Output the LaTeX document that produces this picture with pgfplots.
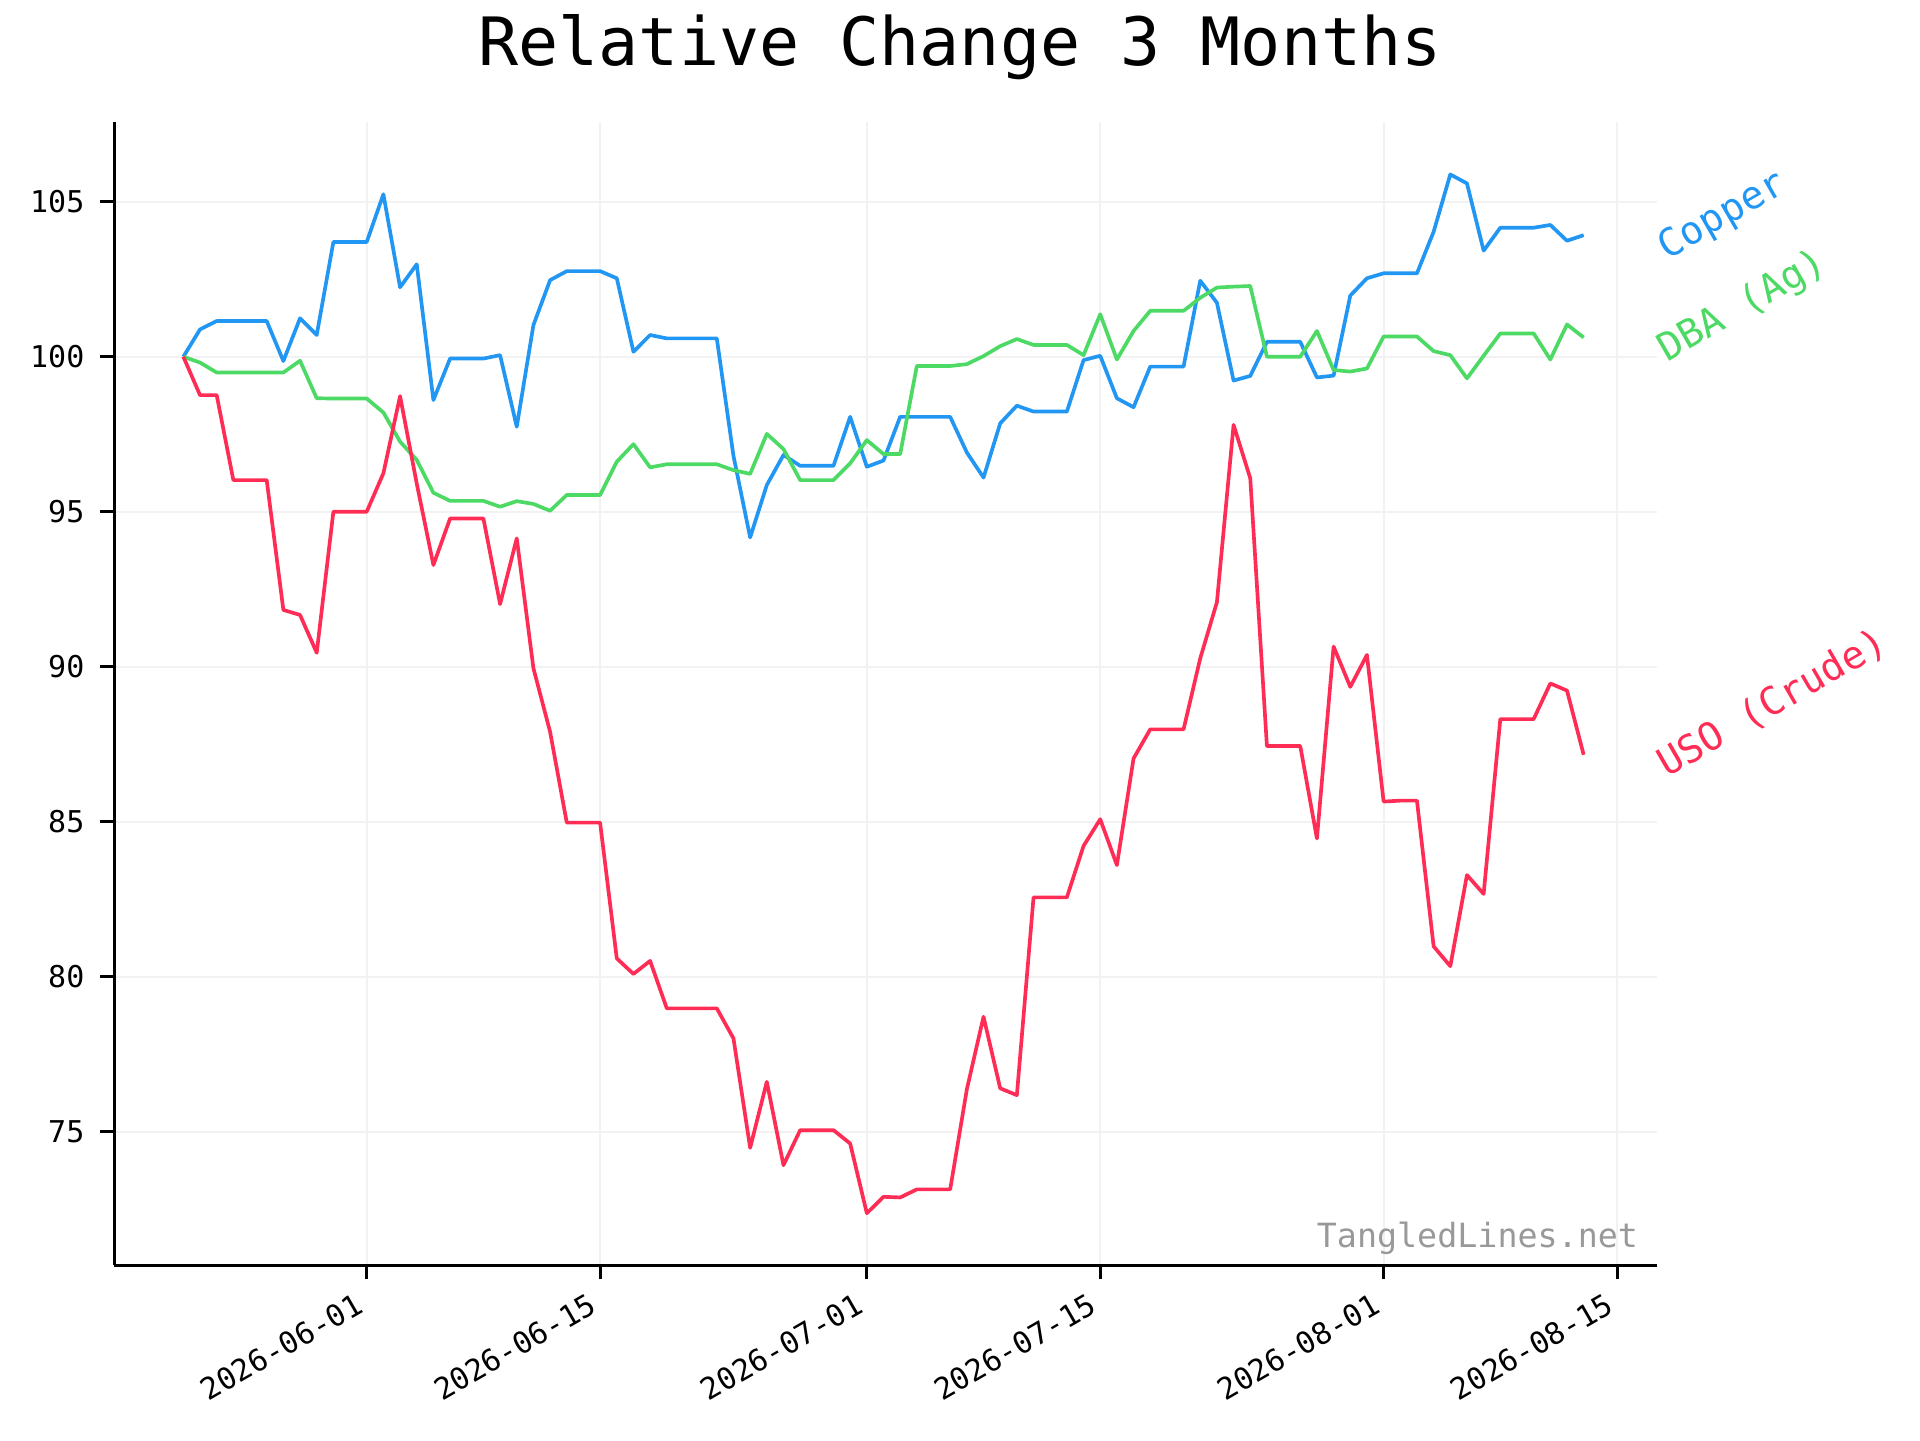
\documentclass[border=0pt]{standalone}
\usepackage{fontspec}
\setmainfont{DejaVu Sans Mono}
\usepackage{pgfplots}
\usepackage{pgfplotstable}
\pgfplotsset{compat=1.18}
\definecolor{cblue}{RGB}{33,150,243}
\definecolor{cgreen}{RGB}{76,217,100}
\definecolor{cred}{RGB}{255,45,85}
\definecolor{gridc}{RGB}{242,242,242}
\definecolor{wm}{RGB}{153,153,153}

\pgfplotstableread{
i copper dba uso
0 100.00 100.00 100.00
1 100.88 99.81 98.76
2 101.15 99.49 98.76
3 101.15 99.49 96.02
4 101.15 99.49 96.02
5 101.15 99.49 96.02
6 99.86 99.49 91.83
7 101.24 99.87 91.67
8 100.70 98.66 90.45
9 103.70 98.65 95.00
10 103.70 98.65 95.00
11 103.70 98.65 95.00
12 105.24 98.20 96.24
13 102.24 97.26 98.73
14 102.98 96.67 95.91
15 98.60 95.61 93.28
16 99.94 95.35 94.78
17 99.94 95.35 94.78
18 99.94 95.35 94.78
19 100.05 95.16 92.02
20 97.74 95.34 94.14
21 101.02 95.25 89.95
22 102.47 95.03 87.90
23 102.76 95.54 84.97
24 102.76 95.54 84.97
25 102.76 95.54 84.97
26 102.53 96.61 80.59
27 100.16 97.18 80.09
28 100.70 96.43 80.51
29 100.59 96.53 78.98
30 100.59 96.53 78.98
31 100.59 96.53 78.98
32 100.59 96.53 78.98
33 96.80 96.34 78.01
34 94.17 96.22 74.48
35 95.86 97.51 76.61
36 96.83 97.02 73.92
37 96.48 96.02 75.05
38 96.48 96.02 75.05
39 96.48 96.02 75.05
40 98.06 96.56 74.62
41 96.45 97.31 72.37
42 96.65 96.86 72.90
43 98.06 96.86 72.88
44 98.06 99.70 73.14
45 98.06 99.70 73.14
46 98.06 99.70 73.14
47 96.91 99.76 76.37
48 96.10 100.02 78.71
49 97.85 100.34 76.40
50 98.42 100.57 76.18
51 98.23 100.38 82.56
52 98.23 100.38 82.56
53 98.23 100.38 82.56
54 99.89 100.05 84.22
55 100.03 101.37 85.08
56 98.66 99.91 83.60
57 98.37 100.83 87.04
58 99.68 101.48 87.98
59 99.68 101.48 87.98
60 99.68 101.48 87.98
61 102.45 101.90 90.27
62 101.74 102.23 92.08
63 99.23 102.26 97.80
64 99.38 102.28 96.08
65 100.48 100.00 87.44
66 100.48 100.00 87.44
67 100.48 100.00 87.44
68 99.33 100.83 84.46
69 99.39 99.57 90.65
70 101.97 99.52 89.35
71 102.53 99.62 90.38
72 102.69 100.65 85.65
73 102.69 100.65 85.68
74 102.69 100.65 85.68
75 104.03 100.18 80.98
76 105.88 100.05 80.34
77 105.59 99.30 83.28
78 103.42 100.03 82.67
79 104.16 100.75 88.31
80 104.16 100.75 88.31
81 104.16 100.75 88.31
82 104.25 99.91 89.46
83 103.74 101.04 89.23
84 103.92 100.62 87.16
}\datatable

\begin{document}
\begin{tikzpicture}[x=1pt,y=1pt]
\useasboundingbox (0,0) rectangle (576,432);
\node[anchor=base, font=\fontsize{20}{24}\selectfont, inner sep=0pt] at (288,412.2) {Relative Change 3 Months};
\begin{axis}[
  at={(34.3pt,52.4pt)}, anchor=south west,
  scale only axis, width=462.7pt, height=342.9pt,
  xmin=-4.14, xmax=88.38, ymin=70.69, ymax=107.56,
  axis x line*=bottom, axis y line*=left,
  axis line style={line width=0.9pt, -, black},
  xtick={11,25,41,55,72,86},
  xticklabels={2026-06-01,2026-06-15,2026-07-01,2026-07-15,2026-08-01,2026-08-15},
  ytick={75,80,85,90,95,100,105},
  tick align=outside, major tick length=4.2pt,
  tick style={line width=0.9pt, black},
  grid=major, major grid style={gridc, line width=0.6pt},
  tick label style={font=\fontsize{9}{10}\selectfont},
  /pgf/number format/assume math mode=true,
  xticklabel style={xshift=-3.75pt, yshift=-3.6pt, rotate=30, anchor=north east, inner sep=0pt},
  yticklabel style={anchor=east, inner sep=0pt, xshift=-4.6pt},
  clip=false,
]
\addplot[cblue, line width=1.1pt, line join=round] table[x=i, y=copper]{\datatable};
\addplot[cgreen, line width=1.1pt, line join=round] table[x=i, y=dba]{\datatable};
\addplot[cred, line width=1.1pt, line join=round] table[x=i, y=uso]{\datatable};
\node[cblue, rotate=30, anchor=base west, inner sep=0pt, font=\fontsize{11.6}{14}\selectfont] at (axis cs:89.0,103.1) {Copper};
\node[cgreen, rotate=30, anchor=base west, inner sep=0pt, font=\fontsize{11.6}{14}\selectfont] at (axis cs:89.0,99.8) {DBA (Ag)};
\node[cred, rotate=30, anchor=base west, inner sep=0pt, font=\fontsize{11.6}{14}\selectfont] at (axis cs:89.0,86.4) {USO (Crude)};
\node[wm, anchor=base east, inner sep=0pt, font=\fontsize{10}{12}\selectfont] at (axis cs:87.3,71.25) {TangledLines.net};
\end{axis}
\end{tikzpicture}
\end{document}
